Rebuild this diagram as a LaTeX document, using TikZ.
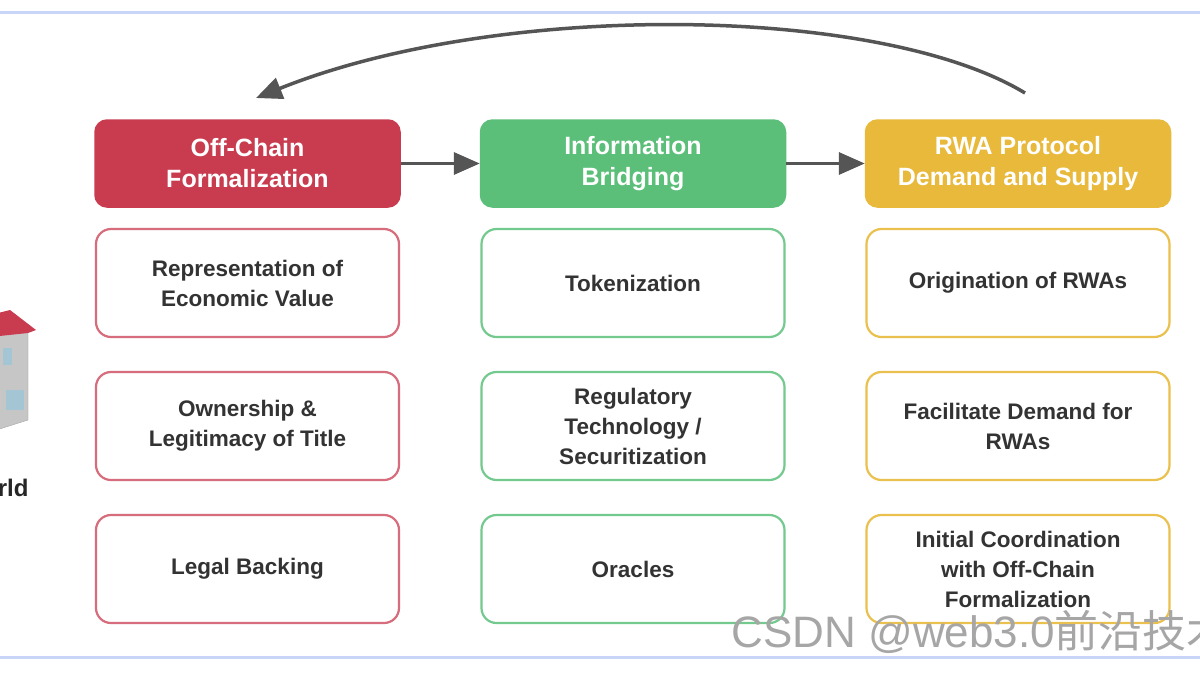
\documentclass[tikz,border=0pt]{standalone}
\usepackage{fontspec}
\setmainfont{Liberation Sans}
\newfontfamily\cjk{Noto Sans CJK SC}
\usetikzlibrary{arrows.meta}
\definecolor{cred}{HTML}{C93C50}
\definecolor{cgreen}{HTML}{5BBF7A}
\definecolor{cyel}{HTML}{E8B93A}
\definecolor{cline}{HTML}{C8D4F8}
\definecolor{carrow}{HTML}{555555}
\begin{document}
\begin{tikzpicture}[x=1pt,y=-1pt,
  hdr/.style={draw=#1,fill=#1,rounded corners=12,minimum width=305,minimum height=87,align=center,text=white,font=\fontsize{25}{31}\selectfont\bfseries,line width=1.5},
  item/.style={draw=#1,fill=white,rounded corners=15,minimum width=303,minimum height=108,align=center,text=black!80,font=\fontsize{22.5}{30}\selectfont\bfseries,line width=2.2},
  con/.style={-{Triangle[length=26,width=22]},line width=3.5,draw=carrow}]
\useasboundingbox (0,0) rectangle (1200,675);
\clip (0,0) rectangle (1200,675);
\fill[white] (0,0) rectangle (1200,675);
\draw[cline,line width=3] (0,12) -- (1200,12);
\draw[cline,line width=3] (0,657) -- (1200,657);
% house
\fill[gray!45,draw=gray!70] (-10,335) -- (28,330) -- (28,420) -- (-10,432) -- cycle;
\fill[cred] (-10,315) -- (10,310) -- (36,330) -- (28,333) -- (-10,337) -- cycle;
\fill[cyan!40!gray!60] (3,348) rectangle (12,365);
\fill[cyan!40!gray!60] (6,390) rectangle (24,410);
\node[anchor=east,font=\fontsize{24}{28}\selectfont\bfseries,text=black!85] (world) at (32,488) {World};
% headers
\node[hdr=cred] (h1) at (247.5,163.5) {Off-Chain\\Formalization};
\node[hdr=cgreen] (h2) at (633,163.5) {Information\\Bridging};
\node[hdr=cyel] (h3) at (1018,163.5) {RWA Protocol\\Demand and Supply};
% items
\node[item=cred!75] (a1) at (247.5,283) {Representation of\\Economic Value};
\node[item=cred!75] (a2) at (247.5,426) {Ownership \&\\Legitimacy of Title};
\node[item=cred!75] (a3) at (247.5,569) {Legal Backing};
\node[item=cgreen!85] (b1) at (633,283) {Tokenization};
\node[item=cgreen!85] (b2) at (633,426) {Regulatory\\Technology /\\Securitization};
\node[item=cgreen!85] (b3) at (633,569) {Oracles};
\node[item=cyel!90] (c1) at (1018,283) {Origination of RWAs};
\node[item=cyel!90] (c2) at (1018,426) {Facilitate Demand for\\RWAs};
\node[item=cyel!90] (c3) at (1018,569) {Initial Coordination\\with Off-Chain\\Formalization};
% connectors
\draw[con] (h1.east) -- (h2.west);
\draw[con] (h2.east) -- (h3.west);
\coordinate (s) at (1025,93);
\coordinate (e) at (256,98);
\draw[con] (s) .. controls (880,5) and (500,0) .. (e);
% watermark
\node[anchor=west,text=gray!70,font=\fontsize{44}{48}\selectfont] (wm) at (728,632) {CSDN @web3.0{\cjk 前沿技术}};
\end{tikzpicture}
\end{document}
